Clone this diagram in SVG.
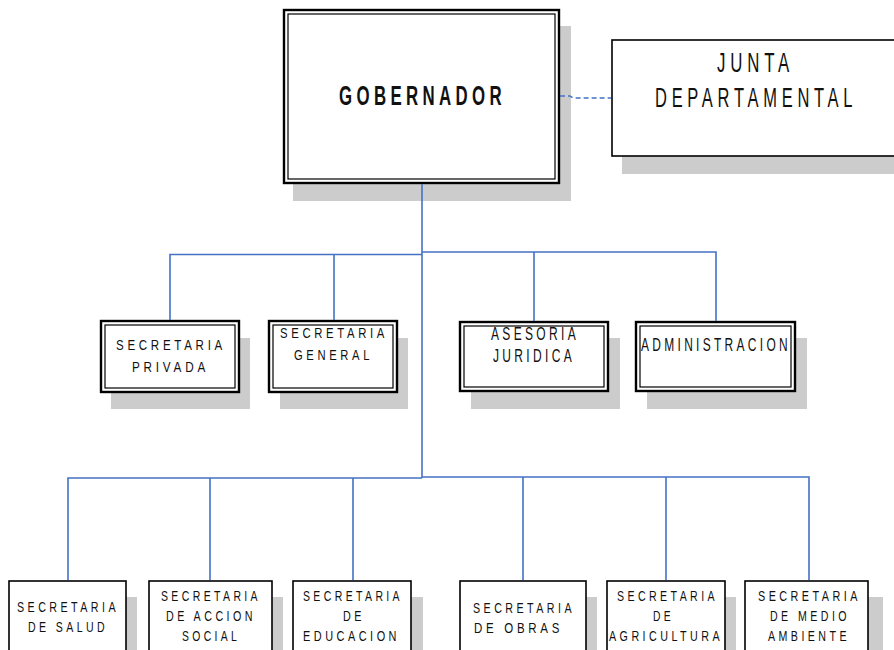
<svg xmlns="http://www.w3.org/2000/svg" width="894" height="650" viewBox="0 0 894 650">
<style>
.sh{fill:#cccccc}
.bx{fill:#ffffff;stroke:#000000;stroke-width:2.4}
.in{fill:none;stroke:#000000;stroke-width:1.2}
.sb{fill:#ffffff;stroke:#000000;stroke-width:1.6}
.t{font-family:"Liberation Sans",Arial,sans-serif;fill:#111111}
.s{font-size:15.5px;letter-spacing:5px}
.m{font-size:18px;letter-spacing:5px}
.g{font-size:27px;font-weight:bold;letter-spacing:7px}
.j{font-size:28px;letter-spacing:8px}
.c{fill:none;stroke:#4472C4;stroke-width:1.6}
</style>
<rect width="894" height="650" fill="#ffffff"/>

<g id="gobernador">
<rect class="sh" x="293" y="26" width="278" height="175"/>
<rect class="bx" x="284" y="10" width="275" height="173"/>
<rect class="in" x="288" y="14" width="267" height="165"/>
<text class="t g" x="339" y="105" textLength="167" lengthAdjust="spacingAndGlyphs">GOBERNADOR</text>
</g>

<g id="junta">
<rect class="sh" x="622" y="57" width="290" height="117"/>
<rect class="sb" x="612" y="40" width="300" height="116"/>
<text class="t j" x="717" y="72" textLength="77" lengthAdjust="spacingAndGlyphs">JUNTA</text>
<text class="t j" transform="translate(655,107) scale(0.6,1)" x="0" y="0" textLength="337" lengthAdjust="spacingAndGlyphs">DEPARTAMENTAL</text>
</g>

<g id="sec-privada">
<rect class="sh" x="111" y="338" width="139" height="71"/>
<rect class="bx" x="101" y="321" width="138" height="71"/>
<rect class="in" x="105" y="325" width="130" height="63"/>
<text class="t s" x="116" y="350" textLength="110" lengthAdjust="spacingAndGlyphs">SECRETARIA</text>
<text class="t s" x="132" y="372" textLength="77" lengthAdjust="spacingAndGlyphs">PRIVADA</text>
</g>

<g id="sec-general">
<rect class="sh" x="280" y="338" width="128" height="71"/>
<rect class="bx" x="269" y="321" width="128" height="71"/>
<rect class="in" x="273" y="325" width="120" height="63"/>
<text class="t s" x="280" y="338" textLength="108" lengthAdjust="spacingAndGlyphs">SECRETARIA</text>
<text class="t s" x="294" y="360" textLength="79" lengthAdjust="spacingAndGlyphs">GENERAL</text>
</g>

<g id="asesoria">
<rect class="sh" x="471" y="338" width="149" height="71"/>
<rect class="bx" x="460" y="322" width="148" height="69"/>
<rect class="in" x="464" y="326" width="140" height="61"/>
<text class="t m" x="491" y="340" textLength="88" lengthAdjust="spacingAndGlyphs">ASESORIA</text>
<text class="t m" x="493" y="362" textLength="82" lengthAdjust="spacingAndGlyphs">JURIDICA</text>
</g>

<g id="administracion">
<rect class="sh" x="647" y="338" width="160" height="71"/>
<rect class="bx" x="636" y="322" width="159" height="69"/>
<rect class="in" x="640" y="326" width="151" height="61"/>
<text class="t m" x="641" y="351" textLength="150" lengthAdjust="spacingAndGlyphs">ADMINISTRACION</text>
</g>

<g id="sec-salud">
<rect class="sh" x="20" y="597" width="117" height="70"/>
<rect class="sb" x="9" y="581" width="117" height="80"/>
<text class="t s" x="17" y="612" textLength="102" lengthAdjust="spacingAndGlyphs">SECRETARIA</text>
<text class="t s" x="28" y="632" textLength="80" lengthAdjust="spacingAndGlyphs">DE SALUD</text>
</g>

<g id="sec-accion-social">
<rect class="sh" x="160" y="597" width="123" height="70"/>
<rect class="sb" x="149" y="581" width="123" height="80"/>
<text class="t s" x="161" y="601" textLength="100" lengthAdjust="spacingAndGlyphs">SECRETARIA</text>
<text class="t s" x="166" y="621" textLength="90" lengthAdjust="spacingAndGlyphs">DE ACCION</text>
<text class="t s" x="182" y="641" textLength="58" lengthAdjust="spacingAndGlyphs">SOCIAL</text>
</g>

<g id="sec-educacion">
<rect class="sh" x="304" y="597" width="119" height="70"/>
<rect class="sb" x="293" y="581" width="118" height="80"/>
<text class="t s" x="303" y="601" textLength="100" lengthAdjust="spacingAndGlyphs">SECRETARIA</text>
<text class="t s" x="343" y="621" textLength="22" lengthAdjust="spacingAndGlyphs">DE</text>
<text class="t s" x="303" y="641" textLength="97" lengthAdjust="spacingAndGlyphs">EDUCACION</text>
</g>

<g id="sec-obras">
<rect class="sh" x="471" y="597" width="126" height="70"/>
<rect class="sb" x="460" y="581" width="126" height="80"/>
<text class="t s" x="473" y="613" textLength="102" lengthAdjust="spacingAndGlyphs">SECRETARIA</text>
<text class="t s" x="474" y="633" textLength="89" lengthAdjust="spacingAndGlyphs">DE OBRAS</text>
</g>

<g id="sec-agricultura">
<rect class="sh" x="618" y="597" width="118" height="70"/>
<rect class="sb" x="607" y="581" width="118" height="80"/>
<text class="t s" x="617" y="601" textLength="101" lengthAdjust="spacingAndGlyphs">SECRETARIA</text>
<text class="t s" x="653" y="621" textLength="21" lengthAdjust="spacingAndGlyphs">DE</text>
<text class="t s" x="609" y="641" textLength="114" lengthAdjust="spacingAndGlyphs">AGRICULTURA</text>
</g>

<g id="sec-medio-ambiente">
<rect class="sh" x="756" y="597" width="127" height="70"/>
<rect class="sb" x="745" y="581" width="123" height="80"/>
<text class="t s" transform="translate(758,601) scale(0.7,1)" x="0" y="0" textLength="147" lengthAdjust="spacingAndGlyphs">SECRETARIA</text>
<text class="t s" x="770" y="621" textLength="80" lengthAdjust="spacingAndGlyphs">DE MEDIO</text>
<text class="t s" x="768" y="641" textLength="82" lengthAdjust="spacingAndGlyphs">AMBIENTE</text>
</g>

<g id="connectors">
<path class="c" d="M422,184 V478"/>
<path class="c" d="M170,320 V254.5 H422 M334,254.5 V320 M422,252 H716 V321 M534,252 V321"/>
<path class="c" d="M68,580 V478 H422 M210,478 V580 M353,478 V580 M422,477 H809 V580 M523,477 V580 M666,477 V580"/>
<path class="c" d="M560,96 H570 Q572,98 575,98 H611" stroke-dasharray="5,3"/>
</g>
</svg>
